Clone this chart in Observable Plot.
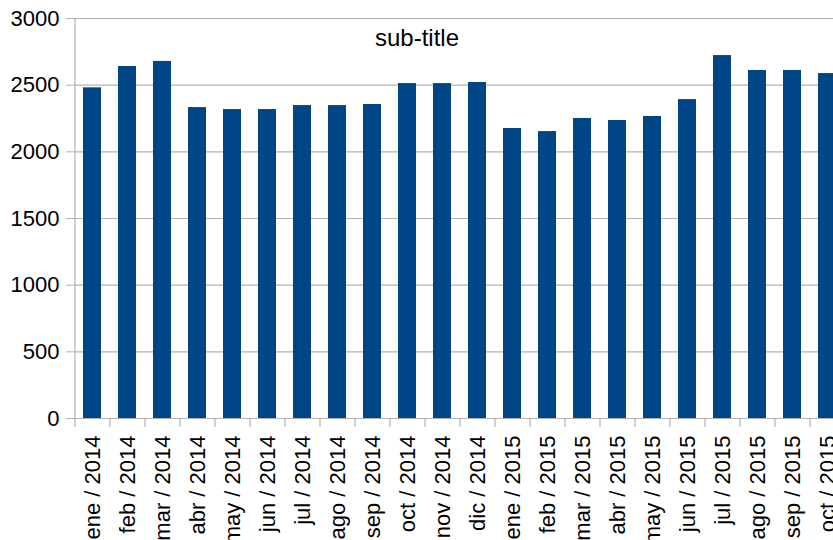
<!DOCTYPE html>
<html>
<head>
<meta charset="utf-8">
<script src="https://cdn.jsdelivr.net/npm/d3@7"></script>
<script src="https://cdn.jsdelivr.net/npm/@observablehq/plot@0.6"></script>
<style>
  html, body { margin: 0; padding: 0; overflow: hidden; background: white; }
  #chart svg { max-width: none !important; display: block; }
</style>
</head>
<body>
<div id="chart"></div>
<script>
const monthNames = ["ene","feb","mar","abr","may","jun","jul","ago","sep","oct","nov","dic",
                    "ene","feb","mar","abr","may","jun","jul","ago","sep","oct"];
const years = [2014,2014,2014,2014,2014,2014,2014,2014,2014,2014,2014,2014,
               2015,2015,2015,2015,2015,2015,2015,2015,2015,2015];
const values = [2480, 2640, 2678, 2332, 2317, 2317, 2347, 2347, 2355, 2512, 2512, 2520,
                2175, 2152, 2250, 2235, 2265, 2392, 2722, 2610, 2610, 2587];
const yTicks = [0, 500, 1000, 1500, 2000, 2500, 3000];
const subtitle = "sub-title";

const labels = monthNames.map((m, i) => `${m} / ${years[i]}`);
const data = labels.map((label, i) => ({label, value: values[i]}));

const width = 845, height = 540;
const marginLeft = 75, marginRight = 0, marginTop = 18, marginBottom = 122;
const step = (width - marginLeft - marginRight) / labels.length;
const tickLen = 9;
const yPerPx = 3000 / (height - marginTop - marginBottom);
const grey = "#b3b3b3";

const chart = Plot.plot({
  width, height, marginLeft, marginRight, marginTop, marginBottom,
  style: {fontFamily: "'Liberation Sans', Arial, sans-serif", fontSize: "22px", color: "black", background: "white"},
  x: {domain: labels, paddingInner: 0.48, paddingOuter: 0.24, label: null},
  y: {domain: [0, 3000], label: null},
  marks: [
    Plot.ruleY(yTicks, {stroke: grey, strokeWidth: 1.2}),
    Plot.barY(data, {x: "label", y: "value", fill: "#004586"}),
    Plot.ruleX([0], {x: () => labels[0], dx: -step / 2, y1: -tickLen * yPerPx, y2: 3000, stroke: grey, strokeWidth: 1.2}),
    Plot.ruleX(labels.slice(1), {x: d => d, dx: -step / 2, y1: -tickLen * yPerPx, y2: 0, stroke: grey, strokeWidth: 1.2}),
    Plot.axisY({ticks: yTicks, tickSize: tickLen, tickPadding: 7, stroke: grey, fontSize: 22, tickFormat: d => String(d)}),
    Plot.axisX({tickSize: 0, tickRotate: -90, tickPadding: 17, fontSize: 22}),
    Plot.text([subtitle], {frameAnchor: "top", text: d => d, lineAnchor: "top", dx: 416.5 - (marginLeft + width - marginRight) / 2, dy: 10, fontSize: 24})
  ]
});
document.getElementById("chart").appendChild(chart);
</script>
</body>
</html>
